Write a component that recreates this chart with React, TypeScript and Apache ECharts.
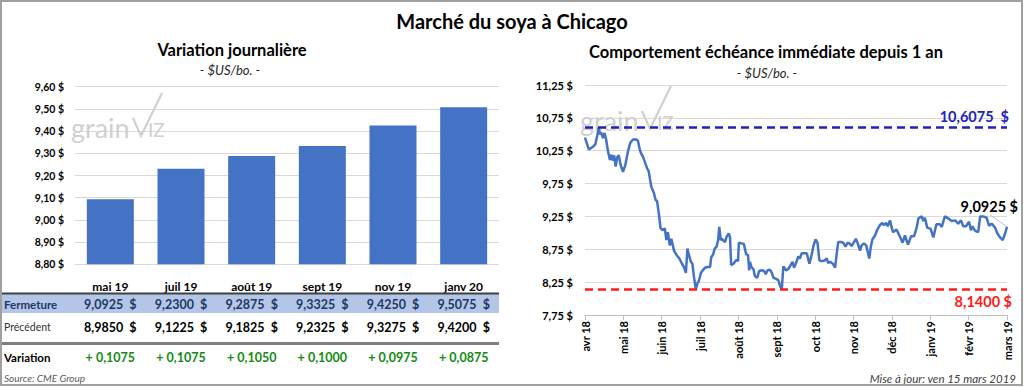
import React, { useEffect, useRef } from "react";
import * as echarts from "echarts";

// ---------- data ----------
const contracts = ["mai 19", "juil 19", "août 19", "sept 19", "nov 19", "janv 20"];
const closing = [9.0925, 9.23, 9.2875, 9.3325, 9.425, 9.5075];
const previous = [8.985, 9.1225, 9.1825, 9.2325, 9.3275, 9.42];

const monthLabels = ["avr 18", "mai 18", "juin 18", "juil 18", "août 18", "sept 18", "oct 18", "nov 18", "déc 18", "janv 19", "févr 19", "mars 19"];

// position on the time axis, in months since avr 18
const lineMonth = [
  0, 0.10, 0.21, 0.27, 0.32, 0.36, 0.39, 0.42, 0.47, 0.51, 0.55, 0.60, 0.65, 0.69, 0.72, 0.76, 0.80, 0.84, 0.88, 0.93,
  0.99, 1.05, 1.12, 1.18, 1.25, 1.34, 1.38, 1.43, 1.47, 1.51, 1.56, 1.62, 1.66, 1.69, 1.73, 1.80, 1.84, 1.88, 1.93, 1.97,
  2.03, 2.08, 2.12, 2.16, 2.21, 2.25, 2.32, 2.39, 2.46, 2.52, 2.58, 2.63, 2.67, 2.71, 2.76, 2.80, 2.84, 2.89, 2.93, 2.97,
  3.02, 3.07, 3.13, 3.19, 3.26, 3.29, 3.34, 3.38, 3.43, 3.47, 3.50, 3.54, 3.57, 3.61, 3.65, 3.69, 3.75, 3.78, 3.81, 3.87,
  3.91, 3.95, 3.99, 4.01, 4.08, 4.14, 4.20, 4.25, 4.28, 4.30, 4.34, 4.39, 4.43, 4.49, 4.54, 4.61, 4.67, 4.71, 4.76, 4.82,
  4.87, 4.91, 4.98, 5.04, 5.08, 5.13, 5.17, 5.24, 5.30, 5.36, 5.41, 5.45, 5.50, 5.56, 5.60, 5.65, 5.71, 5.78, 5.85, 5.91,
  5.95, 6.01, 6.06, 6.11, 6.18, 6.25, 6.30, 6.34, 6.39, 6.46, 6.52, 6.56, 6.60, 6.67, 6.73, 6.79, 6.84, 6.89, 6.95, 7.01,
  7.06, 7.11, 7.17, 7.21, 7.27, 7.33, 7.37, 7.41, 7.45, 7.49, 7.56, 7.62, 7.69, 7.75, 7.79, 7.85, 7.89, 7.95, 7.99, 8.03,
  8.12, 8.21, 8.28, 8.34, 8.42, 8.50, 8.58, 8.65, 8.69, 8.78, 8.82, 8.86, 8.92, 9.01, 9.08, 9.16, 9.25, 9.30, 9.38, 9.47,
  9.56, 9.65, 9.73, 9.80, 9.86, 9.93, 10.01, 10.06, 10.10, 10.17, 10.25, 10.30, 10.38, 10.47, 10.53, 10.60, 10.69, 10.75, 10.82, 10.89,
  10.95, 11.0,
];
const linePrice = [
  10.45, 10.27, 10.31, 10.35, 10.48, 10.6075, 10.50, 10.53, 10.44, 10.52, 10.42, 10.24, 10.11, 10.19, 10.10, 10.18, 10.01, 10.15, 10.18, 10.03,
  9.93, 10.03, 10.24, 10.37, 10.42, 10.42, 10.40, 10.26, 10.20, 10.16, 10.08, 9.98, 9.94, 9.83, 9.70, 9.60, 9.50, 9.48, 9.27, 9.07,
  9.04, 9.07, 8.89, 9.01, 8.81, 8.91, 8.73, 8.66, 8.61, 8.54, 8.48, 8.39, 8.76, 8.66, 8.56, 8.53, 8.33, 8.14, 8.23, 8.27,
  8.39, 8.43, 8.47, 8.48, 8.48, 8.63, 8.67, 8.76, 8.79, 8.89, 9.09, 8.89, 8.91, 8.88, 8.86, 8.94, 8.99, 8.93, 8.51, 8.53,
  8.56, 8.59, 8.57, 8.85, 8.84, 8.83, 8.68, 8.66, 8.43, 8.56, 8.48, 8.45, 8.34, 8.32, 8.42, 8.43, 8.42, 8.37, 8.43, 8.44,
  8.39, 8.32, 8.30, 8.28, 8.20, 8.14, 8.49, 8.43, 8.45, 8.51, 8.56, 8.47, 8.54, 8.64, 8.61, 8.69, 8.69, 8.69, 8.53, 8.67,
  8.79, 8.90, 8.85, 8.58, 8.57, 8.58, 8.61, 8.54, 8.56, 8.53, 8.47, 8.68, 8.86, 8.86, 8.85, 8.79, 8.85, 8.84, 8.80, 8.86,
  8.91, 8.84, 8.73, 8.81, 8.84, 8.81, 8.71, 8.61, 8.79, 8.90, 8.96, 9.05, 9.12, 9.15, 9.12, 9.15, 9.10, 9.19, 9.09, 9.01,
  9.05, 8.94, 8.85, 8.96, 8.82, 8.95, 8.95, 9.09, 9.22, 9.25, 9.18, 9.23, 9.08, 9.06, 8.93, 9.13, 9.13, 9.09, 9.25, 9.22,
  9.18, 9.19, 9.14, 9.19, 9.10, 9.10, 9.17, 9.04, 9.10, 9.03, 9.01, 9.25, 9.25, 9.23, 9.11, 9.14, 9.08, 8.99, 8.93, 8.89,
  8.99, 9.0925,
];
const yearHigh = 10.6075;
const yearLow = 8.14;

// ---------- helpers ----------
const FONT = "Lato, 'Open Sans', 'Noto Sans', sans-serif";
const fmt = (v: number, d: number) => v.toFixed(d).replace(".", ",");
const BAR_LEFT = 75;
const BAR_WIDTH = 424;
const colX = (i: number) => BAR_LEFT + (BAR_WIDTH / contracts.length) * (i + 0.5);

function txt(text: string, x: number, y: number, o: any = {}) {
  return {
    type: "text",
    x,
    y,
    silent: true,
    z: o.z ?? 10,
    style: {
      text,
      fontFamily: FONT,
      fontSize: o.size ?? 12,
      fontWeight: o.weight ?? "normal",
      fontStyle: o.style ?? "normal",
      fill: o.color ?? "#000",
      align: o.align ?? "left",
      textAlign: o.align ?? "left",
      verticalAlign: "middle",
      textVerticalAlign: "middle",
    },
  };
}

function watermark(dx: number, dy: number) {
  const c = "#D0D0D0";
  return [
    txt("grain", 71 + dx, 127 + dy, { size: 27, color: c, z: 1 }),
    {
      type: "polyline",
      silent: true,
      z: 1,
      shape: { points: [[133 + dx, 118 + dy], [141 + dx, 136 + dy], [162 + dx, 93 + dy]] },
      style: { stroke: c, lineWidth: 2.2, fill: "none" },
    },
    txt("IZ", 148 + dx, 129 + dy, { size: 19, color: c, z: 1 }),
  ];
}

export default function App() {
  const ref = useRef<HTMLDivElement>(null);

  useEffect(() => {
    document.body.style.margin = "0";
    const chart = echarts.init(ref.current!, null, { renderer: "svg" });

    const tableEls: any[] = [];
    tableEls.push({ type: "rect", silent: true, z: 2, shape: { x: 0, y: 294, width: 499, height: 19 }, style: { fill: "#B4C6E7" } });
    tableEls.push({ type: "line", silent: true, z: 3, shape: { x1: 0, y1: 293.5, x2: 499, y2: 293.5 }, style: { stroke: "#404040", lineWidth: 2 } });
    tableEls.push({ type: "line", silent: true, z: 3, shape: { x1: 0, y1: 343.5, x2: 499, y2: 343.5 }, style: { stroke: "#7F7F7F", lineWidth: 3 } });
    tableEls.push(txt("Fermeture", 4, 304, { size: 11.5, weight: "bold", color: "#1F3864" }));
    tableEls.push(txt("Précédent", 4, 327, { size: 10.5, color: "#333" }));
    tableEls.push(txt("Variation", 4, 357, { size: 11.5, weight: "bold" }));
    contracts.forEach((_, i) => {
      tableEls.push(txt(fmt(closing[i], 4) + "  $", colX(i), 304, { size: 12.5, weight: "bold", color: "#1F3864", align: "center" }));
      tableEls.push(txt(fmt(previous[i], 4) + "  $", colX(i), 327, { size: 12.5, weight: "bold", color: "#000", align: "center" }));
      const d = closing[i] - previous[i];
      tableEls.push(txt((d >= 0 ? "+ " : "- ") + fmt(Math.abs(d), 4), colX(i), 357, { size: 12.5, weight: "bold", color: "#138A13", align: "center" }));
    });
    tableEls.push(txt("Source: CME Group", 4, 378, { size: 10, style: "italic", color: "#595959" }));

    const baseGraphic: any[] = [
      { type: "rect", silent: true, z: 20, shape: { x: 1, y: 1, width: 1021, height: 384 }, style: { fill: "none", stroke: "#A0A0A0", lineWidth: 2 } },
      txt("Marché du soya à Chicago", 512, 21, { size: 20, weight: "bold", align: "center" }),
      txt("Variation journalière", 232, 50, { size: 16.5, weight: "bold", align: "center" }),
      txt("- $US/bo. -", 230, 70, { size: 13, style: "italic", color: "#262626", align: "center" }),
      txt("Comportement échéance immédiate depuis 1 an", 766, 52, { size: 16.5, weight: "bold", align: "center" }),
      txt("- $US/bo. -", 767, 73, { size: 13, style: "italic", color: "#262626", align: "center" }),
      ...watermark(0, 0),
      ...watermark(509, -7),
      ...tableEls,
      txt("Mise à jour: ven 15 mars 2019", 1016, 378, { size: 11.5, style: "italic", color: "#404040", align: "right" }),
    ];

    const option: any = {
      animation: false,
      backgroundColor: "#fff",
      textStyle: { fontFamily: FONT },
      grid: [
        { left: BAR_LEFT, width: BAR_WIDTH, top: 86.7, height: 177.6 },
        { left: 585, right: 17, top: 85, height: 230 },
      ],
      xAxis: [
        {
          type: "category",
          gridIndex: 0,
          data: contracts,
          axisLine: { show: false },
          axisTick: { show: false },
          axisLabel: { margin: 16, color: "#000", fontWeight: "bold", fontSize: 12, fontFamily: FONT },
        },
        {
          type: "value",
          gridIndex: 1,
          min: 0,
          max: 11,
          interval: 1,
          splitLine: { show: false },
          axisLine: { show: true, lineStyle: { color: "#BFBFBF" } },
          axisTick: { show: true, length: 5, lineStyle: { color: "#BFBFBF" } },
          axisLabel: {
            rotate: 90,
            margin: 6,
            color: "#000",
            fontWeight: "bold",
            fontSize: 11,
            fontFamily: FONT,
            formatter: (v: number) => monthLabels[Math.round(v)] ?? "",
          },
        },
      ],
      yAxis: [
        {
          type: "value",
          gridIndex: 0,
          min: 8.8,
          max: 9.6,
          interval: 0.1,
          axisLine: { show: false },
          axisTick: { show: false },
          splitLine: { lineStyle: { color: "#D9D9D9" } },
          axisLabel: { margin: 11, color: "#000", fontWeight: "bold", fontSize: 10.5, fontFamily: FONT, formatter: (v: number) => fmt(v, 2) + " $" },
        },
        {
          type: "value",
          gridIndex: 1,
          min: 7.75,
          max: 11.25,
          interval: 0.5,
          axisLine: { show: false },
          axisTick: { show: false },
          splitLine: { lineStyle: { color: "#D9D9D9" } },
          axisLabel: { margin: 12, color: "#000", fontWeight: "bold", fontSize: 11, fontFamily: FONT, formatter: (v: number) => fmt(v, 2) + " $" },
        },
      ],
      series: [
        {
          type: "bar",
          xAxisIndex: 0,
          yAxisIndex: 0,
          data: closing,
          barWidth: 47,
          itemStyle: { color: "#4472C4" },
          silent: true,
        },
        {
          type: "line",
          xAxisIndex: 1,
          yAxisIndex: 1,
          symbol: "none",
          silent: true,
          lineStyle: { color: "#4472C4", width: 2.5 },
          data: lineMonth.map((m, i) => [m, linePrice[i]]),
          markLine: {
            symbol: "none",
            silent: true,
            label: { show: false },
            data: [
              { yAxis: yearHigh, lineStyle: { color: "#2222B8", type: [8, 5], width: 2.5 } },
              { yAxis: yearLow, lineStyle: { color: "#FF1A1A", type: [8, 5], width: 2.5 } },
            ],
          },
        },
      ],
      graphic: baseGraphic,
    };

    chart.setOption(option);

    // annotations placed through the line chart's own scales
    const last = lineMonth.length - 1;
    const [px, py] = chart.convertToPixel({ gridIndex: 1 }, [lineMonth[last], linePrice[last]]) as number[];
    const [, hy] = chart.convertToPixel({ gridIndex: 1 }, [0, yearHigh]) as number[];
    const [, ly] = chart.convertToPixel({ gridIndex: 1 }, [0, yearLow]) as number[];
    const extra: any[] = [
      txt(fmt(yearHigh, 4) + "  $", px + 2, hy - 11, { size: 14.5, weight: "bold", color: "#2222B8", align: "right", z: 12 }),
      txt(fmt(yearLow, 4) + " $", px + 5, ly + 12, { size: 14.5, weight: "bold", color: "#FF1A1A", align: "right", z: 12 }),
      txt(fmt(linePrice[last], 4) + " $", px + 11, py - 20, { size: 14.5, weight: "bold", color: "#000", align: "right", z: 12 }),
      {
        type: "line",
        silent: true,
        z: 11,
        shape: { x1: px - 17, y1: py - 12, x2: px, y2: py },
        style: { stroke: "#BFBFBF", lineWidth: 1 },
      },
    ];
    chart.setOption({ graphic: [...baseGraphic, ...extra] });

    return () => chart.dispose();
  }, []);

  return <div ref={ref} style={{ width: 1024, height: 387 }} />;
}
